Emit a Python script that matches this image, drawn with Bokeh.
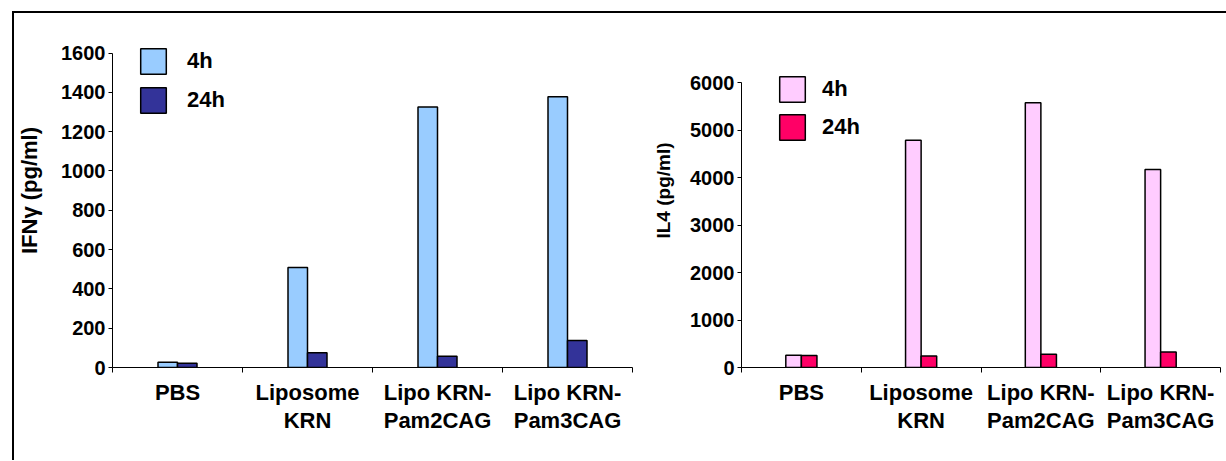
from bokeh.plotting import figure
from bokeh.models import Range1d, FixedTicker, Legend, LegendItem, ColumnDataSource
from bokeh.layouts import row
from bokeh.embed import file_html
from bokeh.resources import INLINE

# ---- data ----
categories = ["PBS", "Liposome\nKRN", "Lipo KRN-\nPam2CAG", "Lipo KRN-\nPam3CAG"]
series_names = ["4h", "24h"]
ifng_4h = [27, 509, 1325, 1378]
ifng_24h = [22, 75, 57, 137]
il4_4h = [259, 4790, 5580, 4175]
il4_24h = [255, 244, 280, 328]
ifng_ticks = [0, 200, 400, 600, 800, 1000, 1200, 1400, 1600]
il4_ticks = [0, 1000, 2000, 3000, 4000, 5000, 6000]

FONT = "Liberation Sans"


def make_panel(width, height, mb_left, mb_right, mb_bottom, axis_max, view_max, yticks,
               v4, v24, c4, c24, bar_w, ylabel, ylabel_size, ylabel_standoff,
               legend_loc, legend_standoff, legend_spacing):
    n = len(categories)
    p = figure(width=width, height=height,
               x_range=Range1d(-0.5, n - 0.5), y_range=Range1d(0, view_max),
               output_backend="svg", toolbar_location=None,
               min_border_left=mb_left, min_border_top=0,
               min_border_right=mb_right, min_border_bottom=mb_bottom)
    p.xgrid.visible = False
    p.ygrid.visible = False
    p.outline_line_color = None
    p.background_fill_color = "white"
    p.border_fill_color = "white"

    idx = list(range(n))
    src = ColumnDataSource(dict(
        x4=[i - bar_w / 2 for i in idx],
        x24=[i + bar_w / 2 for i in idx],
        v4=v4, v24=v24))
    r4 = p.vbar(x="x4", top="v4", bottom=0, width=bar_w, source=src,
                fill_color=c4, line_color="black", line_width=1.5)
    r24 = p.vbar(x="x24", top="v24", bottom=0, width=bar_w, source=src,
                 fill_color=c24, line_color="black", line_width=1.5)

    # x axis: labels at category centres, ticks at category boundaries
    xa = p.xaxis[0]
    xa.ticker = FixedTicker(ticks=idx, minor_ticks=[i - 0.5 for i in range(n + 1)])
    xa.major_label_overrides = {i: c for i, c in zip(idx, categories)}
    xa.major_tick_out = 0
    xa.major_tick_in = 0
    xa.minor_tick_out = 5
    xa.minor_tick_in = 0
    xa.axis_line_color = "black"
    xa.minor_tick_line_color = "black"
    xa.major_label_text_font = FONT
    xa.major_label_text_font_style = "bold"
    xa.major_label_text_font_size = "22px"
    xa.major_label_text_color = "black"
    xa.major_label_text_line_height = 1.15
    xa.major_label_standoff = 7

    ya = p.yaxis[0]
    ya.ticker = FixedTicker(ticks=yticks)
    ya.bounds = (0, axis_max)
    ya.major_tick_out = 4
    ya.major_tick_in = 0
    ya.minor_tick_out = 0
    ya.axis_line_color = "black"
    ya.major_tick_line_color = "black"
    ya.major_label_text_font = FONT
    ya.major_label_text_font_style = "bold"
    ya.major_label_text_font_size = "20px"
    ya.major_label_text_color = "black"
    ya.major_label_standoff = 3
    ya.axis_label = ylabel
    ya.axis_label_text_font = FONT
    ya.axis_label_text_font_style = "bold"
    ya.axis_label_text_font_size = ylabel_size
    ya.axis_label_text_color = "black"
    ya.axis_label_standoff = ylabel_standoff

    legend = Legend(items=[LegendItem(label=series_names[0], renderers=[r4]),
                           LegendItem(label=series_names[1], renderers=[r24])],
                    location=legend_loc, orientation="vertical",
                    padding=0, margin=0, spacing=legend_spacing,
                    glyph_width=32, glyph_height=32, label_height=26,
                    label_standoff=legend_standoff,
                    label_text_font=FONT, label_text_font_style="bold",
                    label_text_font_size="22px", label_text_color="black",
                    border_line_color=None, background_fill_alpha=0)
    p.add_layout(legend)
    return p


p1 = make_panel(636, 447, 92, 18, 93, 1600, 1801, ifng_ticks, ifng_4h, ifng_24h,
                "#99CCFF", "#333399", 0.15, "IFN\u03b3 (pg/ml)", "22px", 16,
                (25, 251), 18, 7)
p2 = make_panel(576, 447, 91, 6, 93, 6000, 7460, il4_ticks, il4_4h, il4_24h,
                "#FFCCFF", "#FF0066", 0.13, "IL4 (pg/ml)", "19px", 13,
                (35, 224), 14, 6)

layout = row(p1, p2, margin=(11, 0, 0, 12),
             styles={"border-top": "2px solid black", "border-left": "2px solid black"})

open("out.html", "w").write(file_html(layout, INLINE))
